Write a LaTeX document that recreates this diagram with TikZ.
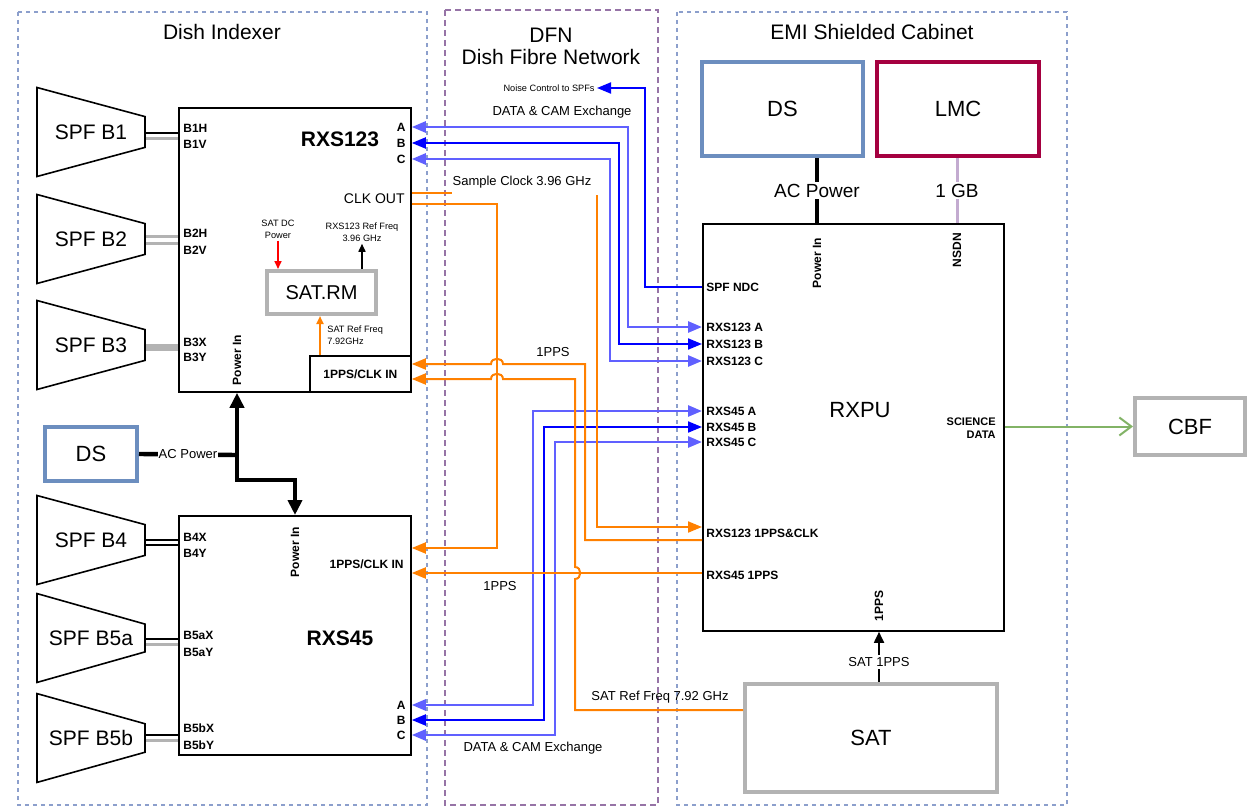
\documentclass[tikz,border=0pt]{standalone}
\usepackage{fontspec}
\setmainfont{Liberation Sans}
\usetikzlibrary{arrows.meta, positioning, shapes.geometric}

\definecolor{dsblue}{HTML}{6C8EBF}
\definecolor{lmcred}{HTML}{A50040}
\definecolor{boxgray}{HTML}{B3B3B3}
\definecolor{sigorange}{HTML}{FF8000}
\definecolor{scigreen}{HTML}{82B366}
\definecolor{nsdnpurple}{HTML}{C3ABD0}
\definecolor{dfnpurple}{HTML}{9673A6}
\definecolor{zoneblue}{HTML}{8C9FCC}
\definecolor{lightblue}{HTML}{6060FF}

\begin{document}
\begin{tikzpicture}[x=0.5pt, y=-0.5pt,
  every node/.style={inner sep=1pt},
  zone/.style={draw=zoneblue, line width=0.6pt, dash pattern=on 2pt off 2pt},
  dfnzone/.style={draw=dfnpurple, line width=0.6pt, dash pattern=on 3pt off 2pt},
  zonetitle/.style={font=\fontsize{10.5}{11}\selectfont, align=center},
  unit/.style={draw, line width=0.9pt, anchor=north west, inner sep=0pt},
  thickbox/.style={draw=#1, line width=2pt, font=\fontsize{11}{13}\selectfont},
  spf/.style={trapezium, draw, line width=0.8pt, trapezium angle=79,
    shape border rotate=270, trapezium stretches=true,
    minimum width=44.5pt, minimum height=54pt, inner sep=0pt,
    font=\fontsize{10.5}{12}\selectfont},
  unitname/.style={font=\fontsize{10.5}{12}\selectfont\bfseries},
  port/.style={font=\fontsize{6}{7}\selectfont\bfseries},
  sig/.style={font=\fontsize{6.5}{7.5}\selectfont},
  tinylbl/.style={font=\fontsize{4.6}{6}\selectfont, align=center},
  hline/.style={draw=black, line width=0.9pt},
  vline/.style={draw=boxgray, line width=1.5pt},
  bline/.style={draw=blue, line width=1pt},
  blight/.style={draw=lightblue, line width=1.3pt},
  oline/.style={draw=sigorange, line width=1pt},
  pline/.style={draw=black, line width=2.2pt},
  arrow/.style={-{Triangle[length=7pt,width=5.5pt]}},
  dblarrow/.style={{Triangle[length=7pt,width=5.5pt]}-{Triangle[length=7pt,width=5.5pt]}},
  powarrow/.style={-{Triangle[length=7.5pt,width=7pt]}},
  smallarrow/.style={-{Triangle[length=4pt,width=3.5pt]}}]

\useasboundingbox (0,0) rectangle (1248,808);

% zones
\draw[zone] (18,12) rectangle (427,805);
\draw[dfnzone] (445,10) rectangle (658,805);
\draw[zone] (677,12) rectangle (1067,805);
\node[zonetitle] (tdish) at (222,32) {Dish Indexer};
\node[zonetitle] (tdfn) at (551,46) {DFN\\Dish Fibre Network};
\node[zonetitle] (temi) at (872,32) {EMI Shielded Cabinet};

% feeds
\node[spf] (spfb1) at (91,132) {SPF B1};
\node[spf] (spfb2) at (91,239) {SPF B2};
\node[spf] (spfb3) at (91,345) {SPF B3};
\node[spf] (spfb4) at (91,540) {SPF B4};
\node[spf] (spfb5a) at (91,638) {SPF B5a};
\node[spf] (spfb5b) at (91,738) {SPF B5b};

% RXS123
\node[unit, minimum width=116pt, minimum height=142pt] (rxs123) at (178,107) {};
\node[unitname] (n123) at (340,139) {RXS123};
\node[port, anchor=west] (b1h) at (181,128) {B1H};
\node[port, anchor=west] (b1v) at (181,144) {B1V};
\node[port, anchor=west] (b2h) at (181,233) {B2H};
\node[port, anchor=west] (b2v) at (181,250) {B2V};
\node[port, anchor=west] (b3x) at (181,342) {B3X};
\node[port, anchor=west] (b3y) at (181,357) {B3Y};
\node[port, anchor=east] (a1) at (408,127) {A};
\node[port, anchor=east] (b1) at (408,143) {B};
\node[port, anchor=east] (c1) at (408,159) {C};
\node[sig, anchor=east, font=\fontsize{7}{8}\selectfont] (clkout) at (407,199) {CLK OUT};
\node[unit, port, minimum width=50.5pt, minimum height=18pt] (clkin123) at (309,355) {1PPS/CLK IN};
\node[port, rotate=90] (pin123) at (237,360) {Power In};
\node[thickbox=boxgray, minimum width=54.5pt, minimum height=21.5pt, font=\fontsize{10}{12}\selectfont] (satrm) at (321.5,292.5) {SAT.RM};
\node[tinylbl] (satdc) at (278,229) {SAT DC\\Power};
\node[tinylbl] (reffq) at (362,232) {RXS123 Ref Freq\\3.96 GHz};
\node[tinylbl, anchor=west, align=left] (srf) at (325,335) {SAT Ref Freq\\7.92GHz};

% RXS45
\node[unit, minimum width=116pt, minimum height=119.5pt] (rxs45) at (178,515) {};
\node[unitname] (n45) at (340,638) {RXS45};
\node[port, anchor=west] (b4x) at (181,537) {B4X};
\node[port, anchor=west] (b4y) at (181,553) {B4Y};
\node[port, anchor=west] (b5ax) at (181,635) {B5aX};
\node[port, anchor=west] (b5ay) at (181,652) {B5aY};
\node[port, anchor=west] (b5bx) at (181,728) {B5bX};
\node[port, anchor=west] (b5by) at (181,745) {B5bY};
\node[port, anchor=east] (a2) at (408,705) {A};
\node[port, anchor=east] (b2) at (408,720) {B};
\node[port, anchor=east] (c2) at (408,735) {C};
\node[port, anchor=east] (clkin45) at (406,564) {1PPS/CLK IN};
\node[port, rotate=90] (pin45) at (295,552) {Power In};

\node[thickbox=dsblue, minimum width=46pt, minimum height=27pt] (dsl) at (91,454) {DS};

% cabinet
\node[thickbox=dsblue, minimum width=80.5pt, minimum height=47pt] (dsr) at (782.5,109) {DS};
\node[thickbox=lmcred, minimum width=81pt, minimum height=47pt] (lmc) at (958,109) {LMC};
\node[unit, minimum width=150.5pt, minimum height=203.5pt] (rxpu) at (702,223) {};
\node[font=\fontsize{11}{13}\selectfont] (nrxpu) at (860,410) {RXPU};
\node[port, anchor=west] (qndc) at (704,287) {SPF NDC};
\node[port, anchor=west] (q123a) at (704,327) {RXS123 A};
\node[port, anchor=west] (q123b) at (704,344) {RXS123 B};
\node[port, anchor=west] (q123c) at (704,361) {RXS123 C};
\node[port, anchor=west] (q45a) at (704,411) {RXS45 A};
\node[port, anchor=west] (q45b) at (704,427) {RXS45 B};
\node[port, anchor=west] (q45c) at (704,442) {RXS45 C};
\node[port, anchor=west] (q123pps) at (704,533) {RXS123 1PPS\&CLK};
\node[port, anchor=west] (q45pps) at (704,575) {RXS45 1PPS};
\node[port, anchor=east, align=right, font=\fontsize{5.5}{6.5}\selectfont\bfseries] (sci) at (998,428) {SCIENCE\\DATA};
\node[port, rotate=90] (pinr) at (817,263) {Power In};
\node[port, rotate=90] (nsdn) at (957,250) {NSDN};
\node[port, rotate=90] (p1pps) at (879,606) {1PPS};
\node[thickbox=boxgray, minimum width=126pt, minimum height=54pt] (sat) at (871,738) {SAT};
\node[thickbox=boxgray, minimum width=55pt, minimum height=28.5pt] (cbf) at (1190,426.5) {CBF};

% feed cables
\draw[hline] ([yshift=-0.5pt]spfb1.east) -- ([yshift=-0.5pt]rxs123.west |- spfb1.east);
\draw[vline] ([yshift=-3.5pt]spfb1.east) -- ([yshift=-3.5pt]rxs123.west |- spfb1.east);
\draw[vline] ([yshift=1pt]spfb2.east) -- ([yshift=1pt]rxs123.west |- spfb2.east);
\draw[vline] ([yshift=-2.5pt]spfb2.east) -- ([yshift=-2.5pt]rxs123.west |- spfb2.east);
\draw[vline, line width=3.5pt] ([yshift=-1pt]spfb3.east) -- ([yshift=-1pt]rxs123.west |- spfb3.east);
\draw[hline] ([yshift=0pt]spfb4.east) -- ([yshift=0pt]rxs45.west |- spfb4.east);
\draw[hline] ([yshift=-2.5pt]spfb4.east) -- ([yshift=-2.5pt]rxs45.west |- spfb4.east);
\draw[hline] ([yshift=-0.5pt]spfb5a.east) -- ([yshift=-0.5pt]rxs45.west |- spfb5a.east);
\draw[vline] ([yshift=-3pt]spfb5a.east) -- ([yshift=-3pt]rxs45.west |- spfb5a.east);
\draw[hline] ([yshift=1.5pt]spfb5b.east) -- ([yshift=1.5pt]rxs45.west |- spfb5b.east);
\draw[vline] ([yshift=-1pt]spfb5b.east) -- ([yshift=-1pt]rxs45.west |- spfb5b.east);

% power
\coordinate (pj) at (237,455);
\draw[pline] (dsl.east) -- node[sig, fill=white, inner sep=0.5pt] (acl) {AC Power} (pj);
\draw[pline, powarrow] (pj) -- (pin123 |- rxs123.south);
\draw[pline, powarrow] (pj) |- (295,480) -- (pin45 |- rxs45.north);
\draw[pline] (dsr.south -| pinr) -- node[fill=white, font=\fontsize{9.5}{11}\selectfont] (acr) {AC Power} (pinr |- rxpu.north);
\draw[draw=nsdnpurple, line width=1.5pt] (lmc.south -| nsdn) -- node[fill=white, font=\fontsize{9.5}{11}\selectfont] (gb) {1 GB} (nsdn |- rxpu.north);

% SAT.RM
\draw[red, line width=0.8pt, smallarrow] (satdc.south) -- (satdc.south |- satrm.north);
\draw[line width=0.8pt, smallarrow] (satrm.north -| reffq) -- (reffq.south);
\draw[oline, smallarrow] ([xshift=5.5pt]clkin123.north west) -- ([xshift=5.5pt]clkin123.north west |- satrm.south);

% data and control
\node[tinylbl] (lnc) at (597,88) [anchor=east] {Noise Control to SPFs};
\draw[bline, arrow] (rxpu.west |- qndc) -| (645,88) -- (lnc.east);
\node[sig] (ldt) at (562,112) {DATA \& CAM Exchange};
\draw[blight, dblarrow] (rxs123.east |- a1) -| (628,327) -- (rxpu.west |- q123a);
\draw[bline, dblarrow] (rxs123.east |- b1) -| (619,344) -- (rxpu.west |- q123b);
\draw[blight, dblarrow] (rxs123.east |- c1) -| (610,361) -- (rxpu.west |- q123c);
\node[sig] (ldb) at (533,748) {DATA \& CAM Exchange};
\draw[blight, dblarrow] (rxs45.east |- a2) -| (533,411) -- (rxpu.west |- q45a);
\draw[bline, dblarrow] (rxs45.east |- b2) -| (544,427) -- (rxpu.west |- q45b);
\draw[blight, dblarrow] (rxs45.east |- c2) -| (555,442) -- (rxpu.west |- q45c);

% clocks and timing
\node[sig] (lsc) at (522,182) {Sample Clock 3.96 GHz};
\coordinate (scend) at (452,193);
\coordinate (sctop) at (597,195);
\draw[oline] (rxs123.east |- scend) -- (scend);
\draw[oline, arrow] (sctop) -- (597,527) -- (rxpu.west |- 597,527);
\draw[oline, arrow] (rxs123.east |- 0,204) -| (497,548) -- (rxs45.east |- 497,548);
\node[sig] (lpa) at (553,352) {1PPS};
\draw[oline, arrow] (rxpu.west |- 0,540) -| (585,364) -- (503,364)
  .. controls (503,357) and (491,357) .. (491,364) -- (rxs123.east |- 0,364);
\node[sig] (lsr) at (660,697) {SAT Ref Freq 7.92 GHz};
\draw[oline, arrow] (sat.west |- 0,710) -- (575,710) -- (575,579)
  .. controls (582,579) and (582,567) .. (575,567) -- (575,379) -- (503,379)
  .. controls (503,372) and (491,372) .. (491,379) -- (rxs123.east |- 0,379);
\node[sig] (lpb) at (500,586) {1PPS};
\draw[oline, arrow] (rxpu.west |- 0,573) -- (rxs45.east |- 0,573);

\draw[line width=0.9pt, -{Triangle[length=5.5pt,width=5pt]}] (sat.north -| p1pps) -- node[sig, fill=white, pos=0.4] (lsp) {SAT 1PPS} (p1pps |- rxpu.south);
\draw[draw=scigreen, line width=1pt, -{Straight Barb[length=6pt,width=9pt]}] (rxpu.east |- cbf) -- (cbf.west);

\end{tikzpicture}
\end{document}
